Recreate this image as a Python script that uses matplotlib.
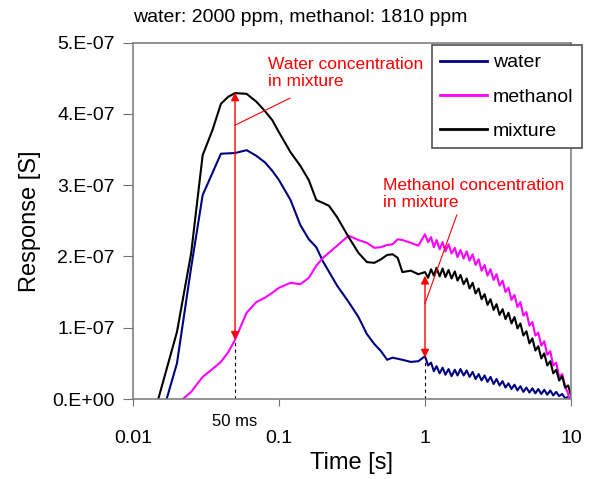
import matplotlib
matplotlib.use("Agg")
import matplotlib.pyplot as plt
import numpy as np
from matplotlib.ticker import FixedLocator, FixedFormatter, NullLocator

plt.rcParams["font.family"] = ["Liberation Sans", "DejaVu Sans"]

# Response values are in units of 1e-7 S
time_water = [0.017, 0.02, 0.025, 0.03, 0.035, 0.04, 0.05, 0.06, 0.07, 0.08, 0.09,
              0.1, 0.12, 0.14, 0.16, 0.18, 0.2, 0.25, 0.3, 0.35, 0.4, 0.45, 0.5,
              0.55, 0.6, 0.7, 0.8, 0.9,
              1.0, 1.05, 1.1, 1.15, 1.2, 1.26, 1.32, 1.38, 1.45, 1.52, 1.6, 1.67,
              1.75, 1.84, 1.93, 2.02, 2.12, 2.22, 2.33, 2.44, 2.56, 2.68, 2.81, 2.95,
              3.09, 3.24, 3.4, 3.56, 3.73, 3.91, 4.1, 4.3, 4.5, 4.72, 4.95, 5.19,
              5.44, 5.7, 5.97, 6.26, 6.56, 6.88, 7.21, 7.56, 7.92, 8.3, 8.7, 9.12,
              9.56, 10]
water = [0, 0.50, 1.84, 2.86, 3.17, 3.44, 3.45, 3.49, 3.41, 3.32, 3.20,
         3.07, 2.79, 2.44, 2.24, 2.13, 1.93, 1.59, 1.36, 1.15, 0.91, 0.77, 0.67,
         0.55, 0.58, 0.55, 0.52, 0.53,
         0.60, 0.47, 0.51, 0.39, 0.46, 0.36, 0.44, 0.34, 0.42, 0.32, 0.41, 0.33,
         0.42, 0.33, 0.40, 0.31, 0.38, 0.28, 0.35, 0.26, 0.33, 0.24, 0.31, 0.21,
         0.28, 0.19, 0.25, 0.16, 0.22, 0.14, 0.20, 0.12, 0.18, 0.10, 0.16, 0.09,
         0.15, 0.08, 0.14, 0.07, 0.13, 0.06, 0.12, 0.05, 0.10, 0.04, 0.07, 0.01,
         0.03, 0.0]

time_methanol = [0.022, 0.025, 0.03, 0.035, 0.04, 0.045, 0.05, 0.06, 0.07, 0.08, 0.09,
                 0.1, 0.12, 0.14, 0.16, 0.18, 0.2, 0.25, 0.3, 0.35, 0.4, 0.45, 0.5,
                 0.55, 0.6, 0.65, 0.7, 0.8, 0.9,
                 1.0, 1.05, 1.1, 1.15, 1.2, 1.26, 1.32, 1.38, 1.45, 1.52, 1.6, 1.67,
                 1.75, 1.84, 1.93, 2.02, 2.12, 2.22, 2.33, 2.44, 2.56, 2.68, 2.81, 2.95,
                 3.09, 3.24, 3.4, 3.56, 3.73, 3.91, 4.1, 4.3, 4.5, 4.72, 4.95, 5.19,
                 5.44, 5.7, 5.97, 6.26, 6.56, 6.88, 7.21, 7.56, 7.92, 8.3, 8.7, 9.12,
                 9.56, 9.7]
methanol = [0, 0.10, 0.31, 0.42, 0.52, 0.66, 0.83, 1.21, 1.36, 1.42, 1.49,
            1.56, 1.63, 1.61, 1.70, 1.87, 1.98, 2.15, 2.29, 2.23, 2.19, 2.12, 2.13,
            2.16, 2.17, 2.24, 2.23, 2.19, 2.15,
            2.31, 2.20, 2.27, 2.13, 2.23, 2.10, 2.20, 2.07, 2.17, 2.04, 2.12, 1.99,
            2.09, 1.97, 2.07, 1.94, 2.03, 1.88, 1.96, 1.80, 1.88, 1.73, 1.82, 1.67,
            1.75, 1.59, 1.66, 1.50, 1.56, 1.39, 1.46, 1.29, 1.36, 1.17, 1.22, 1.03,
            1.08, 0.89, 0.93, 0.75, 0.81, 0.62, 0.67, 0.47, 0.51, 0.31, 0.35, 0.17,
            0.08, 0.0]

time_mixture = [0.0149, 0.02, 0.025, 0.03, 0.035, 0.04, 0.045, 0.05, 0.06, 0.07, 0.08,
                0.09, 0.1, 0.12, 0.14, 0.16, 0.18, 0.2, 0.22, 0.25, 0.3, 0.35, 0.4,
                0.45, 0.5, 0.55, 0.6, 0.65, 0.7, 0.8, 0.9,
                1.0, 1.05, 1.1, 1.15, 1.2, 1.26, 1.32, 1.38, 1.45, 1.52, 1.6, 1.67,
                1.75, 1.84, 1.93, 2.02, 2.12, 2.22, 2.33, 2.44, 2.56, 2.68, 2.81, 2.95,
                3.09, 3.24, 3.4, 3.56, 3.73, 3.91, 4.1, 4.3, 4.5, 4.72, 4.95, 5.19,
                5.44, 5.7, 5.97, 6.26, 6.56, 6.88, 7.21, 7.56, 7.92, 8.3, 8.7, 9.12,
                9.56, 10]
mixture = [0, 0.94, 2.04, 3.42, 3.77, 4.14, 4.24, 4.29, 4.28, 4.17, 4.04,
           3.91, 3.74, 3.46, 3.27, 3.07, 2.79, 2.75, 2.71, 2.55, 2.27, 2.05, 1.92,
           1.91, 1.96, 2.02, 2.03, 1.98, 1.78, 1.80, 1.75,
           1.78, 1.70, 1.82, 1.73, 1.84, 1.72, 1.83, 1.71, 1.81, 1.69, 1.79, 1.66,
           1.74, 1.61, 1.69, 1.55, 1.63, 1.48, 1.55, 1.40, 1.47, 1.32, 1.40, 1.25,
           1.33, 1.18, 1.26, 1.12, 1.21, 1.06, 1.15, 0.99, 1.06, 0.89, 0.95, 0.78,
           0.85, 0.68, 0.74, 0.57, 0.64, 0.47, 0.53, 0.36, 0.41, 0.26, 0.32, 0.16,
           0.19, 0.05]

# concentration arrows (time, low, high)
arrow_times = [0.05, 1.0]
arrow_low = [0.83, 0.58]
arrow_high = [4.30, 1.73]

x_ticks = [0.01, 0.1, 1, 10]
x_tick_labels = ["0.01", "0.1", "1", "10"]
y_ticks = [0, 1, 2, 3, 4, 5]
y_tick_labels = ["0.E+00", "1.E-07", "2.E-07", "3.E-07", "4.E-07", "5.E-07"]

scale = 1e-7
fig = plt.figure(figsize=(5.92, 4.79), dpi=100)
ax = fig.add_axes([133 / 592, 80 / 479, 438 / 592, 356.5 / 479])

ax.plot(time_water, np.array(water) * scale, color="#000080", lw=1.5, label="water")
ax.plot(time_methanol, np.array(methanol) * scale, color="#FF00FF", lw=1.5, label="methanol")
ax.plot(time_mixture, np.array(mixture) * scale, color="black", lw=1.5, label="mixture")

ax.set_xscale("log")
ax.set_xlim(0.01, 10)
ax.set_ylim(0, 5e-7)
ax.xaxis.set_major_locator(FixedLocator(x_ticks))
ax.xaxis.set_major_formatter(FixedFormatter(x_tick_labels))
ax.xaxis.set_minor_locator(NullLocator())
ax.yaxis.set_major_locator(FixedLocator([v * scale for v in y_ticks]))
ax.yaxis.set_major_formatter(FixedFormatter(y_tick_labels))
ax.tick_params(axis="x", direction="out", length=5, pad=17, labelsize=14, color="#707070")
ax.tick_params(axis="y", direction="out", length=7, pad=6, labelsize=14, color="#707070")
for sp in ax.spines.values():
    sp.set_color("#808080")
    sp.set_linewidth(1.2)

ax.set_xlabel("Time [s]", fontsize=17, labelpad=4)
ax.set_ylabel("Response [S]", fontsize=17, labelpad=8)

# dashed guides and red double arrows
ax.vlines(arrow_times, 0, np.array(arrow_low) * scale, colors="black",
          linestyles=(0, (3, 3)), lw=0.8)
for t, lo, hi in zip(arrow_times, arrow_low, arrow_high):
    ax.annotate("", xy=(t, hi * scale), xytext=(t, lo * scale),
                arrowprops=dict(arrowstyle="<|-|>", color="red", lw=1.0,
                                mutation_scale=12, shrinkA=0, shrinkB=0))

ax.text(0.05, -0.063, "50 ms", transform=ax.get_xaxis_transform(),
        ha="center", va="center", fontsize=12)

ax.text(0.084, 4.8e-7, "Water concentration\nin mixture", color="red",
        fontsize=12.5, ha="left", va="top")
ax.plot([0.05, 0.119], [3.84e-7, 4.22e-7], color="red", lw=0.8)
ax.text(0.516, 3.1e-7, "Methanol concentration\nin mixture", color="red",
        fontsize=12.5, ha="left", va="top")
ax.plot([1.0, 1.65], [1.34e-7, 2.58e-7], color="red", lw=0.8)

fig.text(133 / 592, 1 - 18 / 479, "water: 2000 ppm, methanol: 1810 ppm",
         fontsize=14, ha="left", va="center")

leg = ax.legend(loc="upper left", bbox_to_anchor=(431.7 / 592, 1 - 45 / 479),
                bbox_transform=fig.transFigure, borderaxespad=0, fontsize=14,
                handlelength=2.4, handletextpad=0.3, labelspacing=0.85,
                borderpad=0.45, fancybox=False, framealpha=1)
leg.get_frame().set_edgecolor("#505050")
leg.get_frame().set_linewidth(1.2)
for line in leg.get_lines():
    line.set_linewidth(2)

fig.savefig("out.png", dpi=100)
